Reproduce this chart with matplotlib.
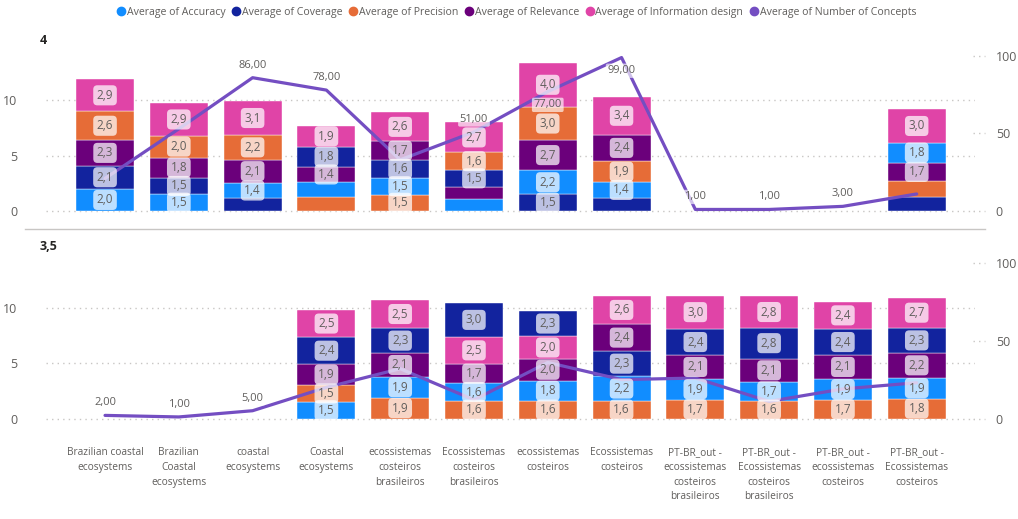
import numpy as np
import matplotlib
matplotlib.use('Agg')
import matplotlib.pyplot as plt
from matplotlib.lines import Line2D
from matplotlib.transforms import blended_transform_factory

plt.rcParams['font.family'] = ['Open Sans', 'DejaVu Sans']

categories = ['Brazilian coastal\necosystems', 'Brazilian\nCoastal\necosystems', 'coastal\necosystems',
              'Coastal\necosystems', 'ecossistemas\ncosteiros\nbrasileiros', 'Ecossistemas\ncosteiros\nbrasileiros',
              'ecossistemas\ncosteiros', 'Ecossistemas\ncosteiros',
              'PT-BR_out -\necossistemas\ncosteiros\nbrasileiros', 'PT-BR_out -\nEcossistemas\ncosteiros\nbrasileiros',
              'PT-BR_out -\necossistemas\ncosteiros', 'PT-BR_out -\nEcossistemas\ncosteiros']
series = ['Average of Accuracy', 'Average of Coverage', 'Average of Precision',
          'Average of Relevance', 'Average of Information design']
line_name = 'Average of Number of Concepts'
panels = ['4', '3,5']
nan = np.nan

# panel "4"
accuracy_4 = [2.0, 1.5, 1.4, 1.35, 1.52, 1.08, 2.2, 1.4, nan, nan, nan, 1.8]
coverage_4 = [2.1, 1.52, 1.15, 1.8, 1.6, 1.5, 1.5, 1.2, nan, nan, nan, 1.3]
precision_4 = [2.6, 2.0, 2.2, 1.25, 1.48, 1.6, 3.0, 1.9, nan, nan, nan, 1.38]
relevance_4 = [2.3, 1.8, 2.1, 1.4, 1.7, 1.12, 2.7, 2.4, nan, nan, nan, 1.7]
infodesign_4 = [2.9, 2.9, 3.1, 1.9, 2.6, 2.7, 4.0, 3.4, nan, nan, nan, 3.0]
concepts_4 = [21, 53, 86, 78, 33, 51, 77, 99, 1, 1, 3, 11]

# panel "3,5"
accuracy_35 = [nan, nan, nan, 1.5, 1.9, 1.62, 1.8, 2.2, 1.9, 1.7, 1.9, 1.9]
coverage_35 = [nan, nan, nan, 2.4, 2.3, 3.0, 2.3, 2.3, 2.4, 2.8, 2.4, 2.3]
precision_35 = [nan, nan, nan, 1.52, 1.88, 1.58, 1.6, 1.6, 1.7, 1.6, 1.7, 1.8]
relevance_35 = [nan, nan, nan, 1.9, 2.1, 1.7, 2.0, 2.4, 2.1, 2.1, 2.1, 2.2]
infodesign_35 = [nan, nan, nan, 2.5, 2.5, 2.5, 2.02, 2.6, 3.0, 2.82, 2.42, 2.7]
concepts_35 = [2, 1, 5, 20, 32, 12, 36, 25, 26, 11, 19, 23]

colors = ['#118DFF', '#12239E', '#E66C37', '#6B007B', '#E044A7']
line_color = '#744EC2'
txt = '#605E5C'

# which line labels Power BI shows, and where
show_4 = ['', '', 'up', 'up', '', 'up', 'down', 'down', 'up', 'up', 'up', '']
show_35 = ['up', 'up', 'up', '', '', '', '', '', '', '', '', '']

W, H = 1018, 519
fig = plt.figure(figsize=(W / 100, H / 100), dpi=100)


def make_panel(top, bottom, zero, scale_l, scale_r, bars, line, show, title, title_y, last):
    ax = fig.add_axes([46 / W, 1 - bottom / H, (975 - 46) / W, (bottom - top) / H])
    ax2 = ax.twinx()
    ax.set_xlim(-0.8, 11.79)
    ax.set_ylim(-(bottom - zero) / scale_l, (zero - top) / scale_l)
    ax2.set_ylim(-(bottom - zero) / scale_r, (zero - top) / scale_r)
    for a in (ax, ax2):
        for s in a.spines.values():
            s.set_visible(False)
    ax.set_yticks([0, 5, 10])
    ax2.set_yticks([0, 50, 100])
    ax.tick_params(axis='y', length=0, pad=20.5, labelsize=9, labelcolor=txt)
    ax2.tick_params(axis='y', length=0, pad=15, labelsize=9, labelcolor=txt)
    ax.grid(axis='y', linestyle=(0, (1, 3)), color='#C8C6C4', lw=1)
    ax.set_axisbelow(True)
    tr = blended_transform_factory(ax2.transAxes, ax2.transData)
    for v in [0, 50, 100]:
        ax2.plot([0.998, 1.011], [v, v], transform=tr, clip_on=False,
                 ls=(0, (1, 3)), color='#C8C6C4', lw=1)

    x = np.arange(len(categories))
    data = np.array(bars)
    for i in x:
        col = data[:, i]
        if np.isnan(col).all():
            continue
        order = np.argsort(col, kind='stable')
        base = 0
        for k in order:
            v = col[k]
            ax.bar(i, v, bottom=base, width=0.785, color=colors[k],
                   edgecolor='#ffffff', linewidth=0.3, zorder=2)
            if v >= 1.4:
                ax2.text(i, base + v / 2, f'{v:.1f}'.replace('.', ','), transform=ax.transData,
                         ha='center', va='center', fontsize=8.5, color=txt, zorder=6,
                         bbox=dict(boxstyle='round,pad=0.3,rounding_size=0.35',
                                   fc='white', ec='none', alpha=0.72))
            base += v

    ax2.plot(x, line, color=line_color, lw=2.3, zorder=4, solid_capstyle='round')
    for i, (v, s) in enumerate(zip(line, show)):
        if not s:
            continue
        dy = 9 if s == 'up' else -9.5
        ax2.annotate(f'{v:.2f}'.replace('.', ','), (i, v), xytext=(0, dy),
                     textcoords='offset points', ha='center', va='center',
                     fontsize=8, color=txt, zorder=5,
                     bbox=dict(boxstyle='round,pad=0.15', fc='white', ec='none', alpha=0.65))

    ax.set_xticks(x)
    if last:
        ax.set_xticklabels(categories, fontsize=7.3, color=txt, linespacing=1.45)
        ax.tick_params(axis='x', length=0, pad=14)
    else:
        ax.set_xticklabels([])
        ax.tick_params(axis='x', length=0)
    fig.text(40 / W, 1 - title_y / H, title, fontsize=9, fontweight='bold',
             color='#252423', va='center')
    return ax


make_panel(45, 220, 211, 11.07, 1.55,
           [accuracy_4, coverage_4, precision_4, relevance_4, infodesign_4],
           concepts_4, show_4, panels[0], 41, False)
make_panel(250, 428, 418.5, 11.08, 1.556,
           [accuracy_35, coverage_35, precision_35, relevance_35, infodesign_35],
           concepts_35, show_35, panels[1], 247, True)

fig.add_artist(Line2D([25 / W, 985 / W], [1 - 229 / H, 1 - 229 / H], color='#C8C6C4', lw=1))

handles = [Line2D([], [], marker='o', ls='none', color=c, markersize=6)
           for c in colors + [line_color]]
fig.legend(handles, series + [line_name], loc='center', bbox_to_anchor=(0.508, 1 - 12 / H),
           ncol=6, frameon=False, fontsize=7.6, labelcolor=txt, handlelength=0.6,
           handletextpad=0.25, columnspacing=0.7, borderaxespad=0, borderpad=0)

fig.savefig('out.png', dpi=100)
